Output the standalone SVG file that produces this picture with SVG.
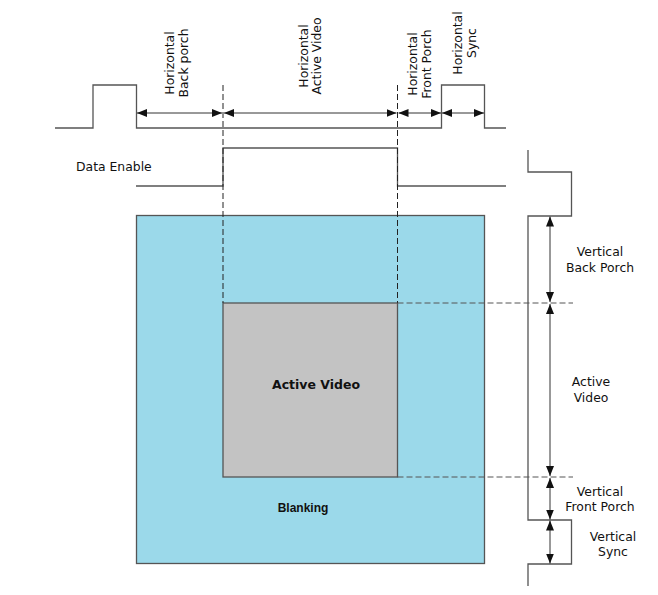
<svg xmlns="http://www.w3.org/2000/svg" width="658" height="595" viewBox="0 0 658 595">
<defs>
<marker id="ah" viewBox="0 0 10 8" refX="10" refY="4" markerWidth="10" markerHeight="8" markerUnits="userSpaceOnUse" orient="auto-start-reverse">
<path d="M0,0 L10,4 L0,8 z" fill="#111"/>
</marker>
<style>
.wave{fill:none;stroke:#555;stroke-width:1.3}
.dim{fill:none;stroke:#333;stroke-width:1;marker-start:url(#ah);marker-end:url(#ah)}
.dashv{fill:none;stroke:#222;stroke-width:1;stroke-dasharray:6,3}
.dashh{fill:none;stroke:#555;stroke-width:1;stroke-dasharray:6,3}
.lbl{font-family:"DejaVu Sans",Verdana,sans-serif;font-size:12.4px;fill:#111}
.c{text-anchor:middle}
</style>
</defs>
<rect width="658" height="595" fill="#fff"/>
<g id="blanking">
<rect x="136.5" y="215.5" width="348" height="348" fill="#9BD9EA" stroke="#555" stroke-width="1.3"/>
<text x="303" y="512" text-anchor="middle" font-family="Liberation Sans, Arial, sans-serif" font-size="12" font-weight="bold" fill="#111">Blanking</text>
</g>
<g id="active-video">
<rect x="223" y="303" width="174.5" height="174" fill="#C3C3C3" stroke="#555" stroke-width="1.3"/>
<text x="316" y="389" text-anchor="middle" font-family="DejaVu Sans, Verdana, sans-serif" font-size="12.5" font-weight="bold" fill="#111">Active Video</text>
</g>
<g id="hsync-wave">
<polyline class="wave" points="55,128 93,128 93,85 136.5,85 136.5,128 441.5,128 441.5,85 484.5,85 484.5,128 506,128"/>
</g>
<g id="data-enable">
<polyline class="wave" points="136,186 223,186 223,148 397.5,148 397.5,186 506,186"/>
<text class="lbl" x="76" y="171">Data Enable</text>
</g>
<g id="vsync-wave">
<polyline class="wave" points="528,150 528,172 571.5,172 571.5,216 528,216 528,520 571.5,520 571.5,564 528,564 528,586"/>
</g>
<g id="connectors">
<line class="dashv" x1="223" y1="85" x2="223" y2="303"/>
<line class="dashv" x1="397.5" y1="85" x2="397.5" y2="303"/>
<line class="dashh" x1="397.5" y1="303" x2="573" y2="303"/>
<line class="dashh" x1="397.5" y1="477" x2="573" y2="477"/>
<line class="dim" x1="137" y1="113" x2="222" y2="113"/>
<line class="dim" x1="224" y1="113" x2="396.5" y2="113"/>
<line class="dim" x1="398.5" y1="113" x2="441" y2="113"/>
<line class="dim" x1="442" y1="113" x2="484" y2="113"/>
<line class="dim" x1="550" y1="216.5" x2="550" y2="302"/>
<line class="dim" x1="550" y1="304" x2="550" y2="476"/>
<line class="dim" x1="550" y1="478" x2="550" y2="519.5"/>
<line class="dim" x1="550" y1="520.5" x2="550" y2="563.5"/>
</g>
<g id="h-labels">
<g transform="translate(174,63) rotate(-90)"><text class="lbl c" x="0" y="0">Horizontal</text><text class="lbl c" x="0" y="13.5">Back porch</text></g>
<g transform="translate(307.5,56) rotate(-90)"><text class="lbl c" x="0" y="0">Horizontal</text><text class="lbl c" x="0" y="13.5">Active Video</text></g>
<g transform="translate(417,64) rotate(-90)"><text class="lbl c" x="0" y="0">Horizontal</text><text class="lbl c" x="0" y="13.5">Front Porch</text></g>
<g transform="translate(462,43) rotate(-90)"><text class="lbl c" x="0" y="0">Horizontal</text><text class="lbl c" x="0" y="13.5">Sync</text></g>
</g>
<g id="v-labels">
<text class="lbl c" x="600" y="256">Vertical</text><text class="lbl c" x="600" y="272">Back Porch</text>
<text class="lbl c" x="591" y="386">Active</text><text class="lbl c" x="591" y="402">Video</text>
<text class="lbl c" x="600" y="496">Vertical</text><text class="lbl c" x="600" y="511">Front Porch</text>
<text class="lbl c" x="613" y="541">Vertical</text><text class="lbl c" x="613" y="556">Sync</text>
</g>
</svg>
